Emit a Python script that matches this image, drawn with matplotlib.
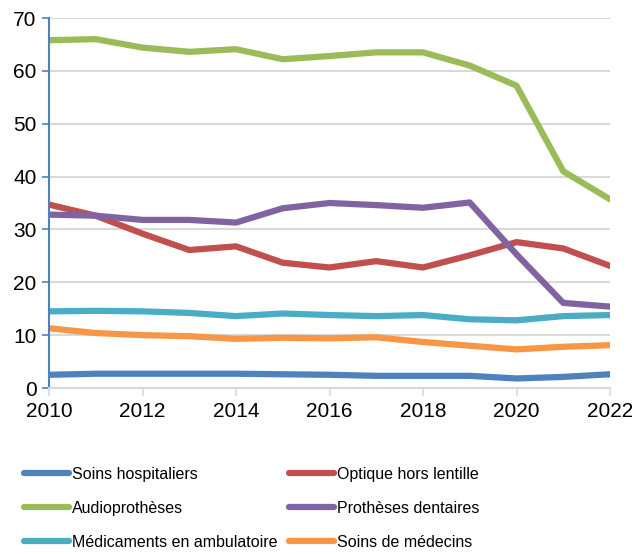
import matplotlib
matplotlib.use("Agg")
import matplotlib.pyplot as plt

years = list(range(2010, 2023))
soins_hosp = [2.5, 2.7, 2.7, 2.7, 2.7, 2.6, 2.5, 2.3, 2.3, 2.3, 1.8, 2.1, 2.6]
optique = [34.7, 32.6, 29.2, 26.1, 26.8, 23.7, 22.8, 24.0, 22.8, 25.1, 27.6, 26.4, 23.1]
audio = [65.8, 66.0, 64.4, 63.6, 64.1, 62.2, 62.8, 63.5, 63.5, 61.0, 57.2, 41.0, 35.7]
dentaires = [32.8, 32.6, 31.8, 31.8, 31.3, 34.0, 35.0, 34.6, 34.1, 35.1, 25.3, 16.1, 15.4]
medicaments = [14.5, 14.6, 14.5, 14.2, 13.6, 14.1, 13.8, 13.6, 13.8, 13.0, 12.8, 13.6, 13.8]
medecins = [11.3, 10.4, 10.0, 9.8, 9.3, 9.5, 9.4, 9.6, 8.7, 8.0, 7.3, 7.8, 8.1]

series = [
    ("Soins hospitaliers", soins_hosp, "#4F81BD"),
    ("Optique hors lentille", optique, "#C0504D"),
    ("Audioprothèses", audio, "#9BBB59"),
    ("Prothèses dentaires", dentaires, "#8064A2"),
    ("Médicaments en ambulatoire", medicaments, "#4BACC6"),
    ("Soins de médecins", medecins, "#F79646"),
]

plt.rcParams["font.family"] = ["Liberation Sans", "DejaVu Sans"]

fig = plt.figure(figsize=(6.32, 5.54), dpi=100)
ax = fig.add_axes([49/632, 1-388/554, (610-49)/632, (388-18)/554])

handles = []
for name, vals, col in series:
    h, = ax.plot(years, vals, color=col, lw=4.5, label=name, solid_capstyle="round")
    handles.append(h)

ax.set_xlim(2010, 2022)
ax.set_ylim(0, 70)
ax.set_xticks(range(2010, 2023, 2))
ax.set_yticks(range(0, 71, 10))
ax.grid(axis="y", color="#D9D9D9", lw=1.5)
ax.set_axisbelow(True)
for s in ["top", "right"]:
    ax.spines[s].set_visible(False)
ax.spines["left"].set_color("#4F81BD")
ax.spines["left"].set_linewidth(1.5)
ax.spines["bottom"].set_color("#D9D9D9")
ax.spines["bottom"].set_linewidth(1.5)
ax.tick_params(axis="y", colors="#4F81BD", labelcolor="black", labelsize=15, length=5, width=1.2, pad=4)
ax.tick_params(axis="x", colors="#D9D9D9", labelcolor="black", labelsize=15, length=6, width=1.2, pad=4)

kw = dict(frameon=False, fontsize=11.5, handlelength=2.8, labelspacing=1.2,
          handletextpad=0.2, borderaxespad=0, borderpad=0)
col1 = [handles[0], handles[2], handles[4]]
col2 = [handles[1], handles[3], handles[5]]
l1 = fig.legend(col1, [h.get_label() for h in col1], loc="lower left",
                bbox_to_anchor=(24/632, 4/554), **kw)
l2 = fig.legend(col2, [h.get_label() for h in col2], loc="lower left",
                bbox_to_anchor=(289/632, 4/554), **kw)
fig.savefig("out.png", dpi=100)
